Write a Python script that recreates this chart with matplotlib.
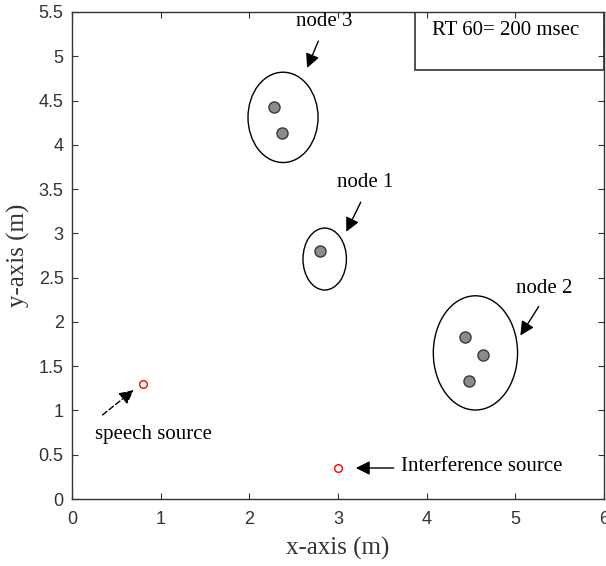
import matplotlib
matplotlib.use("Agg")
import matplotlib.pyplot as plt
from matplotlib.patches import Ellipse

# microphone positions per node
node1_x = [2.80]
node1_y = [2.80]
node2_x = [4.43, 4.63, 4.48]
node2_y = [1.83, 1.63, 1.33]
node3_x = [2.28, 2.37]
node3_y = [4.43, 4.13]

# sources
source_x = [0.80, 3.00]
source_y = [1.30, 0.35]

# ellipses round each node: (cx, cy, width, height)
node_ellipses = [(2.85, 2.71, 0.49, 0.70), (4.55, 1.65, 0.95, 1.29), (2.38, 4.31, 0.79, 1.02)]

serif = "Liberation Serif"
sans = "Liberation Sans"
fs_note = 15

fig = plt.figure(figsize=(6.06, 5.66), dpi=100)
ax = fig.add_axes([72 / 606, 1 - 499 / 566, 532 / 606, 487 / 566])

for cx, cy, w, h in node_ellipses:
    ax.add_patch(Ellipse((cx, cy), w, h, fill=False, ec="black", lw=1.0))

for xs, ys in [(node1_x, node1_y), (node2_x, node2_y), (node3_x, node3_y)]:
    ax.plot(xs, ys, "o", ms=8, mfc="#8c8c8c", mec="#3a3a3a", mew=1.0, ls="none")

ax.plot(source_x, source_y, "o", ms=5.5, mfc="none", mec="red", mew=1.0, ls="none")

arrow = dict(arrowstyle="-|>", color="black", lw=1.0, mutation_scale=21)
ax.annotate("", xy=(2.64, 4.84), xytext=(2.79, 5.20), arrowprops=arrow)
ax.text(2.84, 5.39, "node 3", family=serif, fontsize=fs_note, ha="center", va="center")
ax.annotate("", xy=(3.08, 2.99), xytext=(3.27, 3.38), arrowprops=arrow)
ax.text(3.31, 3.57, "node 1", family=serif, fontsize=fs_note, ha="center", va="center")
ax.annotate("", xy=(5.04, 1.82), xytext=(5.28, 2.20), arrowprops=arrow)
ax.text(5.33, 2.38, "node 2", family=serif, fontsize=fs_note, ha="center", va="center")
ax.annotate("", xy=(0.72, 1.25), xytext=(0.32, 0.93),
            arrowprops=dict(arrow, linestyle=(0, (4, 2))))
ax.text(0.92, 0.73, "speech source", family=serif, fontsize=fs_note, ha="center", va="center")
ax.annotate("", xy=(3.17, 0.35), xytext=(3.66, 0.35), arrowprops=arrow)
ax.text(3.71, 0.37, "Interference source", family=serif, fontsize=fs_note, ha="left", va="center")

ax.text(0.815, 0.963, "RT 60= 200 msec", transform=ax.transAxes, family=serif,
        fontsize=fs_note, ha="center", va="center")
box = plt.Rectangle((0.645, 0.88), 0.355, 0.12, transform=ax.transAxes,
                    fill=False, ec="#333333", lw=1.2)
ax.add_patch(box)

ax.set_xlim(0, 6)
ax.set_ylim(0, 5.5)
ax.set_xticks([0, 1, 2, 3, 4, 5, 6])
ax.set_xticklabels(["0", "1", "2", "3", "4", "5", "6"])
ax.set_yticks([0, 0.5, 1, 1.5, 2, 2.5, 3, 3.5, 4, 4.5, 5, 5.5])
ax.set_yticklabels(["0", "0.5", "1", "1.5", "2", "2.5", "3", "3.5", "4", "4.5", "5", "5.5"])
ax.tick_params(direction="in", top=True, right=True, length=4, width=0.8,
               colors="#333333", labelcolor="#333333", labelsize=13)
ax.tick_params(axis="x", pad=9)
ax.tick_params(axis="y", pad=6)
for lbl in ax.get_xticklabels() + ax.get_yticklabels():
    lbl.set_family(sans)
for sp in ax.spines.values():
    sp.set_color("#333333")
    sp.set_linewidth(1.0)

ax.set_xlabel("x-axis (m)", family=serif, fontsize=18, color="#333333", labelpad=6)
ax.set_ylabel("y-axis (m)", family=serif, fontsize=18, color="#333333", labelpad=6)

fig.savefig("out.png", dpi=100)
